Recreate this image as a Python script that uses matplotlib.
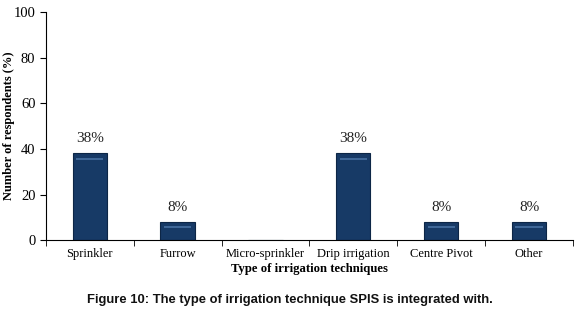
import numpy as np
import matplotlib
matplotlib.use("Agg")
import matplotlib.pyplot as plt

categories = ["Sprinkler", "Furrow", "Micro-sprinkler", "Drip irrigation", "Centre Pivot", "Other"]
values = [38, 8, 0, 38, 8, 8]
labels = ["38%", "8%", "", "38%", "8%", "8%"]

serif = "Liberation Serif"
fig = plt.figure(figsize=(5.8, 3.16), dpi=100)
ax = fig.add_axes([0.079, 0.24, 0.909, 0.722])

x = np.arange(len(categories))
bars = ax.bar(x, values, width=0.39, color="#173a66", edgecolor="#0d2646", linewidth=0.8)
# light band near the top of each bar (bevel look)
for b, v in zip(bars, values):
    if v > 0:
        ax.bar(b.get_x() + b.get_width() / 2, 1.0, bottom=v - 2.8, width=b.get_width() * 0.8,
               color="#5b86b8", alpha=0.6, linewidth=0)

for xi, v, lab in zip(x, values, labels):
    if lab:
        ax.text(xi, v + 3.5, lab, ha="center", va="bottom", fontsize=11, family=serif,
                color="#222222")

ax.set_xlim(-0.5, len(categories) - 0.5)
ax.set_ylim(0, 100)
ax.set_yticks(range(0, 101, 20))
ax.set_xticks(x)
ax.set_xticklabels(categories, fontsize=9, family=serif)
ax.set_xticks(np.arange(-0.5, len(categories)), minor=True)
ax.tick_params(axis="x", which="major", length=0, pad=6)
ax.tick_params(axis="x", which="minor", length=4, direction="out")
ax.tick_params(axis="y", length=4, direction="out", labelsize=10.5)
for t in ax.get_yticklabels():
    t.set_family(serif)
ax.spines["top"].set_visible(False)
ax.spines["right"].set_visible(False)

ax.set_xlabel("Type of irrigation techniques", fontsize=9.2, family=serif, fontweight="bold", labelpad=2)
ax.set_ylabel("Number of respondents (%)", fontsize=9, family=serif, fontweight="bold")
ax.yaxis.set_label_coords(-0.058, 0.5)

fig.text(0.5, 0.05, "Figure 10: The type of irrigation technique SPIS is integrated with.",
         ha="center", va="center", fontsize=9.4, family="Liberation Sans", fontweight="bold",
         color="#111111")

fig.savefig("out.png", dpi=100)
